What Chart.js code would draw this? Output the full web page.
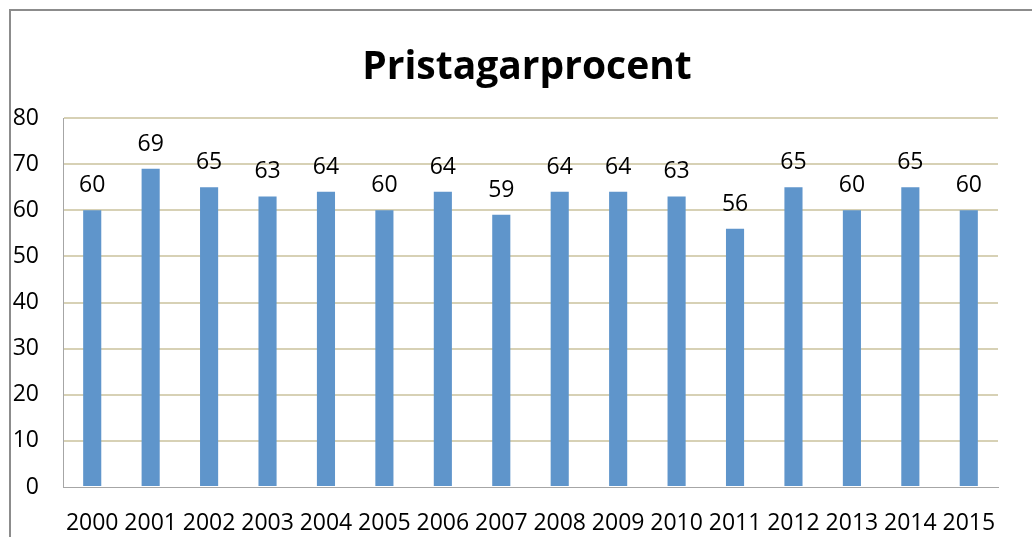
<!DOCTYPE html>
<html>
<head>
<meta charset="utf-8">
<script src="https://cdn.jsdelivr.net/npm/chart.js@4"></script>
<style>
  html, body { margin: 0; padding: 0; background: #fff; }
  #wrap { width: 1032px; height: 537px; }
</style>
</head>
<body>
<div id="wrap"><canvas id="graph" width="1032" height="537"></canvas></div>
<script>
const years = ['2000', '2001', '2002', '2003', '2004', '2005', '2006', '2007',
    '2008', '2009', '2010', '2011', '2012', '2013', '2014', '2015'];
const percent = [60, 69, 65, 63, 64, 60, 64, 59, 64, 64, 63, 56, 65, 60, 65, 60];
const yTicks = [0, 10, 20, 30, 40, 50, 60, 70, 80];
const chartTitle = 'Pristagarprocent';

const FONT = "'Open Sans', 'Liberation Sans', sans-serif";

// grey frame of the chart object (only top and left edges visible) + title
const frame = {
    id: 'frame',
    beforeDraw(chart) {
        const c = chart.ctx;
        c.save();
        c.strokeStyle = '#8c8c8c';
        c.lineWidth = 2;
        c.beginPath();
        c.moveTo(10, chart.height + 5);
        c.lineTo(10, 10);
        c.lineTo(chart.width + 5, 10);
        c.stroke();
        // title is centred on the whole chart object, not the plot
        c.font = 'bold 39px ' + FONT;
        c.fillStyle = '#000';
        c.textAlign = 'center';
        c.textBaseline = 'middle';
        c.fillText(chartTitle, 527, 68);
        c.restore();
    }
};

// value labels above the bars
const barLabels = {
    id: 'barLabels',
    afterDatasetsDraw(chart) {
        const c = chart.ctx;
        const meta = chart.getDatasetMeta(0);
        c.save();
        c.font = '23px ' + FONT;
        c.fillStyle = '#000';
        c.textAlign = 'center';
        c.textBaseline = 'alphabetic';
        meta.data.forEach((bar, i) => {
            c.fillText(String(percent[i]), bar.x, bar.y - 18);
        });
        c.restore();
    }
};

new Chart(document.getElementById('graph'), {
    type: 'bar',
    data: {
        labels: years,
        datasets: [{
            data: percent,
            backgroundColor: '#5f95cb',
            borderWidth: 0,
            barPercentage: 0.31,
            categoryPercentage: 1
        }]
    },
    options: {
        responsive: false,
        animation: false,
        layout: { padding: { left: 0, right: 34, top: 118, bottom: 0 } },
        plugins: {
            legend: { display: false },
            tooltip: { enabled: false },
            title: { display: false }
        },
        scales: {
            x: {
                grid: { display: false, drawTicks: false },
                border: { display: true, color: '#a6a6a6', width: 1 },
                ticks: {
                    color: '#000',
                    font: { family: FONT, size: 23 },
                    padding: 23,
                    maxRotation: 0,
                    autoSkip: false
                },
                afterFit: s => { s.height = 50; }
            },
            y: {
                min: 0,
                max: 80,
                afterBuildTicks: s => { s.ticks = yTicks.map(v => ({ value: v })); },
                grid: {
                    drawTicks: false,
                    color: ctx => ctx.tick && ctx.tick.value === 0 ? 'rgba(0,0,0,0)' : '#d7d1b5',
                    lineWidth: 2
                },
                border: { display: true, color: '#a6a6a6', width: 1 },
                ticks: {
                    color: '#000',
                    font: { family: FONT, size: 23 },
                    padding: 24
                },
                afterFit: s => { s.width = 63; }
            }
        }
    },
    plugins: [frame, barLabels]
});
</script>
</body>
</html>
